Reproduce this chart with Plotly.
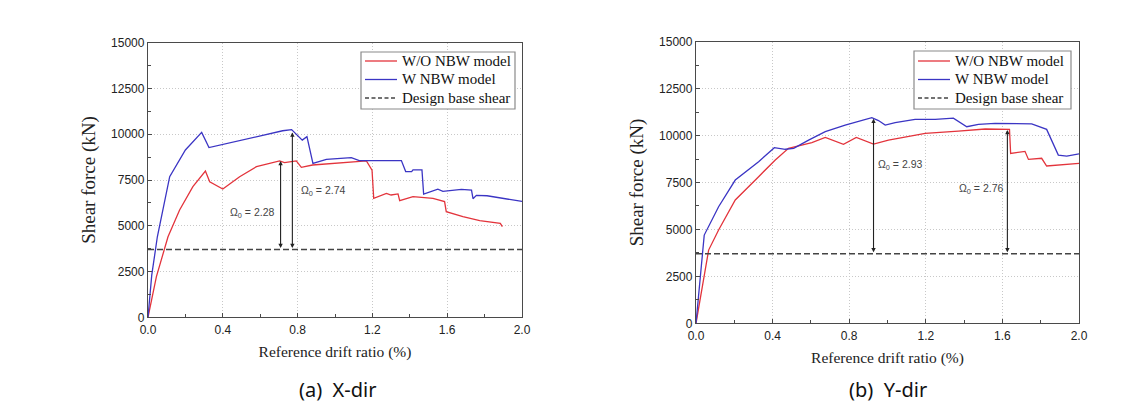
import plotly.graph_objects as go

# ---------------- data ----------------
# (a) X-dir
x_wo_x = [0, 0.045, 0.107, 0.169, 0.24, 0.307, 0.33, 0.40, 0.49, 0.58, 0.704, 0.73, 0.793, 0.82, 0.88,
          1.06, 1.168, 1.198, 1.207, 1.275, 1.30, 1.337, 1.346, 1.417, 1.524, 1.586, 1.595, 1.684,
          1.774, 1.884, 1.895]
y_wo_x = [0, 2220, 4400, 5860, 7135, 7990, 7400, 7010, 7680, 8230, 8540, 8450, 8540, 8190, 8320,
          8460, 8540, 8040, 6500, 6770, 6680, 6740, 6370, 6590, 6500, 6320, 5770, 5500,
          5280, 5130, 4950]
x_w_x = [0, 0.02, 0.05, 0.116, 0.2, 0.287, 0.326, 0.72, 0.768, 0.825, 0.85, 0.882, 0.954, 1.087, 1.13,
         1.355, 1.378, 1.41, 1.417, 1.465, 1.474, 1.55, 1.577, 1.676, 1.73, 1.738, 1.756, 1.813, 2.0]
y_w_x = [0, 2300, 4400, 7680, 9140, 10100, 9270, 10190, 10250, 9680, 9870, 8410, 8630, 8720, 8560,
         8560, 7960, 7960, 8050, 8050, 6735, 7000, 6880, 6990, 6950, 6480, 6660, 6640, 6330]

# (b) Y-dir
x_wo_y = [0, 0.066, 0.118, 0.205, 0.327, 0.414, 0.483, 0.536, 0.605, 0.675, 0.77, 0.837, 0.883, 0.927,
          1.005, 1.11, 1.197, 1.37, 1.51, 1.637, 1.643, 1.718, 1.736, 1.805, 1.831, 2.0]
y_wo_y = [0, 3900, 4970, 6570, 7810, 8700, 9320, 9440, 9620, 9900, 9530, 9900, 9710, 9550,
          9760, 9940, 10120, 10240, 10350, 10330, 9050, 9160, 8730, 8790, 8380, 8520]
x_w_y = [0, 0.043, 0.118, 0.205, 0.327, 0.409, 0.466, 0.51, 0.588, 0.675, 0.779, 0.849, 0.918, 0.953,
         0.988, 1.04, 1.144, 1.249, 1.344, 1.414, 1.475, 1.562, 1.753, 1.831, 1.892, 1.936, 2.0]
y_w_y = [0, 4700, 6210, 7630, 8610, 9355, 9270, 9320, 9760, 10210, 10560, 10740, 10950, 10800,
         10560, 10690, 10860, 10860, 10930, 10470, 10600, 10650, 10620, 10330, 8960, 8910, 9020]

design_x = [0, 2.0]
design_shear = 3700

# overstrength arrows: x position, top value, label
omega_x_pos = [0.709, 0.772]
omega_x_top = [8540, 10100]
omega_x_lbl = ["2.28", "2.74"]
omega_x_txt = [(0.56, 5680), (0.936, 6880)]

omega_y_pos = [0.927, 1.626]
omega_y_top = [10900, 10300]
omega_y_lbl = ["2.93", "2.76"]
omega_y_txt = [(1.066, 8430), (1.492, 7140)]

x_ticks = [0, 0.4, 0.8, 1.2, 1.6, 2.0]
x_tick_text = ["0.0", "0.4", "0.8", "1.2", "1.6", "2.0"]
y_ticks = [0, 2500, 5000, 7500, 10000, 12500, 15000]
y_tick_text = ["0", "2500", "5000", "7500", "10000", "12500", "15000"]

series_names = ["W/O NBW model", "W NBW model", "Design base shear"]
captions = ["(a)  X-dir", "(b)  Y-dir"]

# ---------------- figure ----------------
RED = "#e3343c"
BLUE = "#3b35c4"
DASHC = "#444444"
SERIF = "Liberation Serif"
SANS = "Liberation Sans"
W, H = 1135, 408

fig = go.Figure()

def add_panel(xa, ya, xwo, ywo, xw, yw):
    fig.add_trace(go.Scatter(x=xwo, y=ywo, mode="lines", name=series_names[0],
                             line=dict(color=RED, width=1.3), xaxis=xa, yaxis=ya))
    fig.add_trace(go.Scatter(x=xw, y=yw, mode="lines", name=series_names[1],
                             line=dict(color=BLUE, width=1.3), xaxis=xa, yaxis=ya))
    fig.add_trace(go.Scatter(x=design_x, y=[design_shear, design_shear], mode="lines",
                             name=series_names[2],
                             line=dict(color=DASHC, width=1.5, dash="6px,3px"),
                             xaxis=xa, yaxis=ya))

add_panel("x", "y", x_wo_x, y_wo_x, x_w_x, y_w_x)
add_panel("x2", "y2", x_wo_y, y_wo_y, x_w_y, y_w_y)

annotations = []
shapes = []

def add_arrows(xref, yref, pos, top, lbl, txt):
    for xp, tp, lb, (tx, ty) in zip(pos, top, lbl, txt):
        annotations.append(dict(x=xp, y=tp, ax=xp, ay=design_shear, xref=xref, yref=yref,
                                axref=xref, ayref=yref, showarrow=True, arrowhead=2,
                                arrowsize=0.8, arrowwidth=1.1, arrowcolor="#222222",
                                arrowside="end+start", text=""))
        annotations.append(dict(x=tx, y=ty, xref=xref, yref=yref, showarrow=False,
                                xanchor="center", yanchor="middle",
                                text="Ω<sub>0</sub> = " + lb,
                                font=dict(family=SANS, size=10.5, color="#444444")))

add_arrows("x", "y", omega_x_pos, omega_x_top, omega_x_lbl, omega_x_txt)
add_arrows("x2", "y2", omega_y_pos, omega_y_top, omega_y_lbl, omega_y_txt)

def px(x):
    return x / W

def py(y):
    return 1 - y / H

# hand-drawn legend boxes (pixel layout)
def add_legend(x0, x1, y0, y1, lx0, lx1, tx, rows):
    shapes.append(dict(type="rect", xref="paper", yref="paper", x0=px(x0), x1=px(x1),
                       y0=py(y1), y1=py(y0), line=dict(color="#8a8a8a", width=1.2),
                       fillcolor="white", layer="above"))
    colors = [RED, BLUE, DASHC]
    dashes = ["solid", "solid", "4px,2.5px"]
    for i, ry in enumerate(rows):
        shapes.append(dict(type="line", xref="paper", yref="paper", x0=px(lx0), x1=px(lx1),
                           y0=py(ry), y1=py(ry), layer="above",
                           line=dict(color=colors[i], width=1.3, dash=dashes[i])))
        annotations.append(dict(x=px(tx), y=py(ry), xref="paper", yref="paper",
                                xanchor="left", yanchor="middle", showarrow=False,
                                text=series_names[i],
                                font=dict(family=SERIF, size=15, color="#111111")))

add_legend(361, 515, 52, 109, 365, 397, 400, [61, 79.5, 98])
add_legend(914, 1071, 51, 109, 918, 950, 953, [61, 79.5, 98])

annotations.append(dict(x=px(338), y=py(389), xref="paper", yref="paper", showarrow=False,
                        xanchor="center", yanchor="middle",
                        text=captions[0], font=dict(family="Noto Sans", size=20, color="#111111")))
annotations.append(dict(x=px(887.5), y=py(389), xref="paper", yref="paper", showarrow=False,
                        xanchor="center", yanchor="middle",
                        text=captions[1], font=dict(family="Noto Sans", size=20, color="#111111")))

axis_common = dict(
    automargin=False,
    showline=True, linecolor="#4a4a4a", linewidth=1.3, mirror=True,
    showgrid=True, gridcolor="#c8c8c8", griddash="1px,2px", gridwidth=1,
    ticks="inside", ticklen=4, tickcolor="#4a4a4a",
    zeroline=False,
    tickfont=dict(family=SANS, size=12, color="#222222"),
)
xaxis_common = dict(axis_common, range=[0, 2.0], tickvals=x_ticks, ticktext=x_tick_text,
                    ticklabelstandoff=1,
                    minor=dict(ticks="inside", ticklen=3, dtick=0.2, tickcolor="#4a4a4a", showgrid=False),
                    title=dict(text="Reference drift ratio (%)",
                               font=dict(family=SERIF, size=15.5, color="#222222"), standoff=10))
yaxis_common = dict(axis_common, range=[0, 15000], tickvals=y_ticks, ticktext=y_tick_text,
                    minor=dict(ticks="inside", ticklen=3, dtick=1250, tickcolor="#4a4a4a", showgrid=False),
                    title=dict(text="Shear force (kN)",
                               font=dict(family=SERIF, size=19, color="#222222"), standoff=10))

fig.update_layout(
    template="none",
    width=W, height=H,
    margin=dict(l=0, r=0, t=0, b=0),
    paper_bgcolor="white", plot_bgcolor="white",
    showlegend=False,
    xaxis=dict(xaxis_common, domain=[px(148), px(522)], anchor="y"),
    yaxis=dict(yaxis_common, domain=[py(317.3), py(42.7)], anchor="x"),
    xaxis2=dict(xaxis_common, domain=[px(696), px(1079)], anchor="y2"),
    yaxis2=dict(yaxis_common, domain=[py(323.3), py(41.7)], anchor="x2"),
    annotations=annotations,
    shapes=shapes,
)

fig.write_html("out.html", config={"displayModeBar": False},
               post_script="document.body.style.margin='0';")
